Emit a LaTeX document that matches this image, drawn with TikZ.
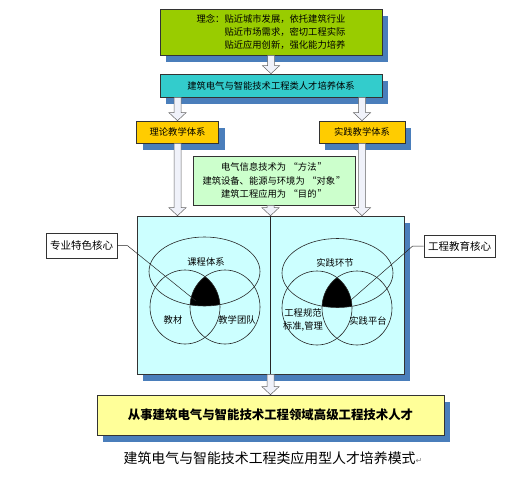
\documentclass[tikz,border=0pt]{standalone}
\usepackage{fontspec}
\setmainfont{Noto Sans CJK SC}
\newfontfamily\dejavu{DejaVu Sans}
\usetikzlibrary{shadows,calc}
\definecolor{shblue}{HTML}{4A7EBB}
\definecolor{topgreen}{HTML}{99CC00}
\definecolor{syscyan}{HTML}{33CCCC}
\definecolor{orangebox}{HTML}{FFCC00}
\definecolor{midgreen}{HTML}{CCFFCC}
\definecolor{bigcyan}{HTML}{CCFFFF}
\definecolor{goalyellow}{HTML}{FFFF99}
\definecolor{arrfill}{HTML}{F0F2FA}
\newcommand\barr[3]{\draw[blockarrow] let \p0=(#1), \p1=(#2.south), \p2=(#3.north) in
  (\x0-3.5pt,\y1) -- (\x0+3.5pt,\y1) -- (\x0+3.5pt,\y2+8pt) -- (\x0+8.5pt,\y2+8pt) -- (\x0,\y2) -- (\x0-8.5pt,\y2+8pt) -- (\x0-3.5pt,\y2+8pt) -- cycle;}
\newcommand\myLQ{\kern2.5pt“}
\newcommand\myRQ{\kern1pt”}
\begin{document}
\begin{tikzpicture}[x=1pt,y=-1pt,
  shbox/.style={draw=black!80, line width=0.6pt, inner sep=0pt,
    general shadow={fill=shblue, shadow xshift=6pt, shadow yshift=-7pt}},
  plainbox/.style={draw=black!80, line width=0.6pt, inner sep=0pt},
  smalltxt/.style={font=\fontsize{9.3}{13.2}\selectfont},
  labtxt/.style={font=\fontsize{10.5}{12}\selectfont},
  venn/.style={draw=black!85, line width=0.6pt},
  blockarrow/.style={draw=black!60, fill=arrfill, line width=0.5pt},
  leader/.style={draw=black!85, line width=0.5pt}]
\useasboundingbox[fill=white] (0,0) rectangle (507,480);

% boxes
\node[shbox, fill=topgreen, minimum width=222pt, minimum height=46pt, smalltxt, align=right]
  (top) at (271,32) {理念：贴近城市发展，依托建筑行业\\贴近市场需求，密切工程实际\\贴近应用创新，强化能力培养};
\node[shbox, fill=syscyan, minimum width=222pt, minimum height=23pt, smalltxt]
  (sys) at (271,85.5) {建筑电气与智能技术工程类人才培养体系};
\node[shbox, fill=orangebox, minimum width=82pt, minimum height=22pt, smalltxt]
  (theo) at (177.5,132) {理论教学体系};
\node[shbox, fill=orangebox, minimum width=86pt, minimum height=22pt, smalltxt]
  (prac) at (362,132) {实践教学体系};
\node[plainbox, fill=midgreen, minimum width=162pt, minimum height=49pt, smalltxt, align=center]
  (mid) at (274,180.5) {电气信息技术为\myLQ 方法\myRQ\\建筑设备、能源与环境为\myLQ 对象\myRQ\\建筑工程应用为\myLQ 目的\myRQ};
\node[shbox, fill=bigcyan, minimum width=267pt, minimum height=158pt]
  (big) at (270.5,295) {};
\node[shbox, fill=goalyellow, minimum width=347pt, minimum height=40pt,
  font=\fontsize{12.4}{14}\selectfont\bfseries]
  (goal) at (270.5,415) {从事建筑电气与智能技术工程领域高级工程技术人才};

% divider
\draw[line width=0.6pt, black!85] (big.north) -- (big.south);

% left Venn
\begin{scope}
  \clip (204.5,271.5) ellipse [x radius=55.5, y radius=34.5];
  \clip (185,307) ellipse [x radius=35, y radius=37];
  \fill[black] (225,307) ellipse [x radius=35, y radius=37];
\end{scope}
\draw[venn] (204.5,271.5) ellipse [x radius=55.5, y radius=34.5];
\draw[venn] (185,307) ellipse [x radius=35, y radius=37];
\draw[venn] (225,307) ellipse [x radius=35, y radius=37];
\node[smalltxt] (kc) at (206,262) {课程体系};
\node[smalltxt] (jc) at (173,320) {教材};
\node[smalltxt] (td) at (237,320) {教学团队};

% right Venn
\begin{scope}
  \clip (337.5,273) ellipse [x radius=55.5, y radius=34.5];
  \clip (317,308) ellipse [x radius=35, y radius=37];
  \fill[black] (357,308) ellipse [x radius=35, y radius=37];
\end{scope}
\draw[venn] (337.5,273) ellipse [x radius=55.5, y radius=34.5];
\draw[venn] (317,308) ellipse [x radius=35, y radius=37];
\draw[venn] (357,308) ellipse [x radius=35, y radius=37];
\node[smalltxt] (sj) at (335,263) {实践环节};
\node[smalltxt, align=center] (gf) at (303,320) {工程规范\\标准,管理};
\node[smalltxt] (pt) at (368,321) {实践平台};

% label boxes and leaders
\node[plainbox, fill=white, minimum width=71pt, minimum height=25pt, labtxt]
  (lab1) at (81.5,245.5) {专业特色核心};
\node[plainbox, fill=white, minimum width=71pt, minimum height=22pt, labtxt]
  (lab2) at (459.5,246) {工程教育核心};
\coordinate (c1) at (196,301);
\coordinate (c2) at (351,300);
\draw[leader] (lab1.east) -- ++(10,0) -- (c1);
\draw[leader] (lab2.west) -- ++(-11,0) -- (c2);

% block arrows
\barr{top}{top}{sys}
\barr{theo}{sys}{theo}
\barr{prac}{sys}{prac}
\barr{theo}{theo}{big}
\barr{prac}{prac}{big}
\barr{big}{mid}{big}
\barr{big}{big}{goal}

% caption
\node[font=\fontsize{13.9}{16}\selectfont] (cap) at (273,458)
  {建筑电气与智能技术工程类应用型人才培养模式{\dejavu\color{black!50}\fontsize{8}{8}\selectfont ↵}};
\end{tikzpicture}
\end{document}
